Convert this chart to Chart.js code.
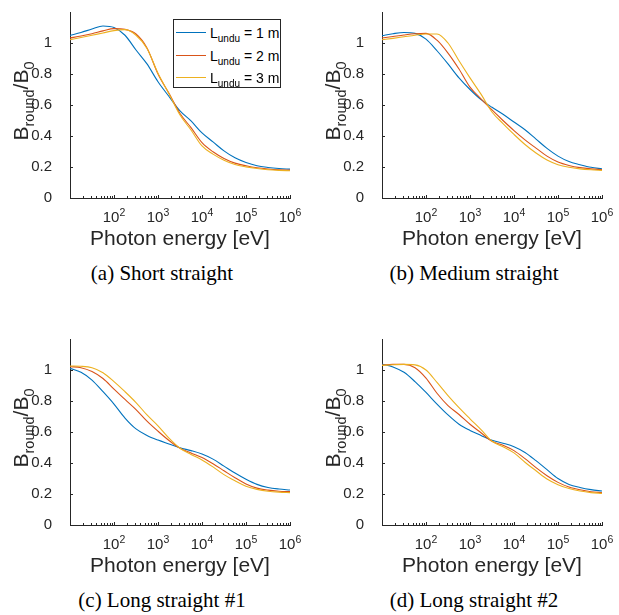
<!DOCTYPE html>
<html>
<head>
<meta charset="utf-8">
<title>Round beam size vs photon energy</title>
<script src="https://cdn.jsdelivr.net/npm/chart.js@4.4.1/dist/chart.umd.min.js"></script>
<style>
  body { margin: 0; background: #fff; }
  .panel { position: absolute; width: 312px; height: 290px; }
  .panel canvas { position: absolute; left: 0; top: 0; }
  .caption { position: absolute; left: 0; top: 261px; width: 324px; text-align: center; white-space: nowrap;
    font-family: 'Liberation Serif', 'Times New Roman', serif; font-size: 21px; line-height: 24px; color: #000; }
  .legend { position: absolute; left: 173px; top: 19px; width: 108px; height: 69px; box-sizing: border-box;
    border: 1px solid #262626; background: #fff; font-family: 'Liberation Sans', Arial, sans-serif; font-size: 14px; color: #000; }
  .legend .item { position: absolute; left: 0; width: 100%; height: 18px; }
  .legend .swatch { position: absolute; left: 2px; top: 8px; width: 30px; height: 0; border-top: 1px solid; }
  .legend .text { position: absolute; left: 36px; top: 0; line-height: 18px; white-space: nowrap; }
  .legend sub { font-size: 10px; vertical-align: -4px; line-height: 0; }
</style>
</head>
<body>
<div class="panel" style="left:0;top:0">
  <canvas id="chart-a" width="310" height="255"></canvas>
  <div class="legend" id="legend-a"></div>
  <div class="caption">(a) Short straight</div>
</div>
<div class="panel" style="left:312px;top:0">
  <canvas id="chart-b" width="310" height="255"></canvas>
  <div class="caption">(b) Medium straight</div>
</div>
<div class="panel" style="left:0;top:327px">
  <canvas id="chart-c" width="310" height="255"></canvas>
  <div class="caption">(c) Long straight #1</div>
</div>
<div class="panel" style="left:312px;top:327px">
  <canvas id="chart-d" width="310" height="255"></canvas>
  <div class="caption">(d) Long straight #2</div>
</div>
<script>
// photon energy [eV], read every quarter decade
const energyEv = [10, 17.78, 31.62, 56.23, 100, 177.8, 316.2, 562.3, 1000, 1778, 3162, 5623,
  10000, 17780, 31620, 56230, 100000, 177800, 316200, 562300, 1000000];

// B_round / B_0, one array per straight section and undulator length
const shortL1 = [1.049, 1.068, 1.090, 1.110, 1.100, 1.050, 0.955, 0.865, 0.750, 0.655, 0.562, 0.497, 0.420, 0.362, 0.304, 0.259, 0.229, 0.208, 0.197, 0.190, 0.186];
const shortL2 = [1.032, 1.045, 1.060, 1.078, 1.093, 1.088, 1.058, 0.968, 0.800, 0.675, 0.545, 0.454, 0.357, 0.298, 0.255, 0.225, 0.208, 0.195, 0.187, 0.182, 0.180];
const shortL3 = [1.021, 1.035, 1.050, 1.065, 1.080, 1.086, 1.050, 0.965, 0.805, 0.672, 0.535, 0.439, 0.336, 0.283, 0.244, 0.216, 0.201, 0.190, 0.182, 0.178, 0.176];

const mediumL1 = [1.047, 1.060, 1.068, 1.062, 1.025, 0.950, 0.865, 0.775, 0.700, 0.635, 0.585, 0.540, 0.490, 0.440, 0.380, 0.320, 0.270, 0.235, 0.215, 0.198, 0.188];
const mediumL2 = [1.032, 1.042, 1.052, 1.060, 1.062, 1.018, 0.935, 0.832, 0.715, 0.640, 0.568, 0.500, 0.435, 0.375, 0.322, 0.270, 0.232, 0.210, 0.196, 0.188, 0.183];
const mediumL3 = [1.021, 1.030, 1.040, 1.050, 1.058, 1.058, 1.000, 0.885, 0.775, 0.670, 0.555, 0.480, 0.410, 0.345, 0.290, 0.245, 0.215, 0.198, 0.188, 0.182, 0.178];

const long1L1 = [1.011, 0.985, 0.935, 0.860, 0.780, 0.690, 0.620, 0.578, 0.548, 0.523, 0.498, 0.480, 0.458, 0.425, 0.380, 0.335, 0.295, 0.262, 0.242, 0.232, 0.226];
const long1L2 = [1.022, 1.015, 0.990, 0.945, 0.877, 0.810, 0.745, 0.670, 0.605, 0.545, 0.495, 0.465, 0.435, 0.395, 0.350, 0.305, 0.265, 0.238, 0.225, 0.218, 0.215];
const long1L3 = [1.026, 1.024, 1.014, 0.982, 0.925, 0.860, 0.790, 0.710, 0.640, 0.560, 0.495, 0.455, 0.420, 0.375, 0.325, 0.285, 0.250, 0.230, 0.218, 0.212, 0.209];

const long2L1 = [1.039, 1.020, 0.985, 0.925, 0.855, 0.780, 0.710, 0.650, 0.610, 0.578, 0.547, 0.528, 0.505, 0.468, 0.415, 0.357, 0.300, 0.262, 0.242, 0.228, 0.219];
const long2L2 = [1.032, 1.036, 1.036, 1.015, 0.948, 0.850, 0.770, 0.713, 0.650, 0.595, 0.540, 0.515, 0.480, 0.428, 0.370, 0.318, 0.275, 0.245, 0.227, 0.215, 0.209];
const long2L3 = [1.030, 1.034, 1.036, 1.033, 1.000, 0.920, 0.835, 0.757, 0.685, 0.615, 0.540, 0.505, 0.465, 0.405, 0.350, 0.297, 0.260, 0.235, 0.219, 0.209, 0.204];

const seriesLabels = ['L_undu = 1 m', 'L_undu = 2 m', 'L_undu = 3 m'];
const lineColors = ['#0072BD', '#D95319', '#EDB120'];
const xMajorTicks = [100, 1000, 10000, 100000, 1000000];
const xTickLabels = ['10^2', '10^3', '10^4', '10^5', '10^6'];
const yTickLabels = ['0', '0.2', '0.4', '0.6', '0.8', '1'];
const xTitle = 'Photon energy [eV]';
const yTitleParts = [{text: 'B'}, {text: 'round', sub: true}, {text: '/B'}, {text: '0', sub: true}];

const axisColor = '#262626';
const fontFamily = '"Liberation Sans", Arial, sans-serif';

Chart.defaults.font.family = fontFamily;
Chart.defaults.color = axisColor;

// inward ticks, 10^n labels and the B_round/B_0 label, placed with the chart's scales
const axisDecor = {
  id: 'axisDecor',
  afterDraw(chart) {
    const {ctx, chartArea, scales: {x, y}} = chart;
    ctx.save();
    ctx.strokeStyle = axisColor;
    ctx.lineWidth = 1;
    ctx.beginPath();
    x.ticks.forEach(tick => {
      const exp = Math.floor(Math.log10(tick.value) + 1e-9);
      const mant = tick.value / Math.pow(10, exp);
      if (Math.abs(mant - Math.round(mant)) > 1e-6) return;
      const px = Math.round(x.getPixelForValue(tick.value)) + 0.5;
      const len = Math.round(mant) === 1 ? 3 : 2;
      ctx.moveTo(px, chartArea.bottom);
      ctx.lineTo(px, chartArea.bottom - len);
    });
    y.ticks.forEach(tick => {
      if (!tick.label) return;
      const py = Math.round(y.getPixelForValue(tick.value)) + 0.5;
      ctx.moveTo(chartArea.left, py);
      ctx.lineTo(chartArea.left + 3, py);
    });
    ctx.stroke();

    ctx.fillStyle = axisColor;
    ctx.textBaseline = 'alphabetic';
    ctx.textAlign = 'left';
    x.ticks.forEach(tick => {
      if (!tick.label) return;
      const [base, exp] = tick.label.split('^');
      ctx.font = '15px ' + fontFamily;
      const wb = ctx.measureText(base).width;
      ctx.font = '10.5px ' + fontFamily;
      const we = ctx.measureText(exp).width;
      const left = x.getPixelForValue(tick.value) - (wb + we) / 2;
      ctx.font = '15px ' + fontFamily;
      ctx.fillText(base, left, chartArea.bottom + 24);
      ctx.font = '10.5px ' + fontFamily;
      ctx.fillText(exp, left + wb, chartArea.bottom + 18);
    });

    const mainFont = '21px ' + fontFamily;
    const subFont = '14.5px ' + fontFamily;
    let total = 0;
    yTitleParts.forEach(p => {
      ctx.font = p.sub ? subFont : mainFont;
      p.width = ctx.measureText(p.text).width;
      total += p.width;
    });
    const centerY = (chartArea.top + chartArea.bottom) / 2 - 4;
    ctx.translate(27.5, centerY);
    ctx.rotate(-Math.PI / 2);
    let pos = -total / 2;
    yTitleParts.forEach(p => {
      ctx.font = p.sub ? subFont : mainFont;
      ctx.fillText(p.text, pos, p.sub ? 6.5 : 0);
      pos += p.width;
    });
    ctx.restore();
  }
};

class RoundBeamChart {
  constructor(canvasId, seriesList, legendId) {
    this.getData(seriesList);
    this.initPlugin(canvasId);
    if (legendId) this.renderLegend(legendId);
  }

  getData(seriesList) {
    const datasets = [];
    seriesList.forEach((values, i) => {
      datasets.push({
        label: seriesLabels[i],
        data: values.map((v, j) => ({x: energyEv[j], y: v})),
        borderColor: lineColors[i],
        backgroundColor: lineColors[i],
        borderWidth: 1.1,
        pointRadius: 0,
        cubicInterpolationMode: 'monotone',
        order: seriesList.length - i,
      });
    });
    this.data = {datasets: datasets};
  }

  initPlugin(canvasId) {
    const context = document.getElementById(canvasId).getContext('2d');

    this.chart = new Chart(context, {
      type: 'line',
      data: this.data,
      plugins: [axisDecor],
      options: {
        responsive: false,
        animation: false,
        devicePixelRatio: 1,
        events: [],
        layout: {padding: {top: 12, right: 20, bottom: 0, left: 0}},
        plugins: {
          legend: {display: false},
          tooltip: {enabled: false},
        },
        scales: {
          x: {
            type: 'logarithmic',
            min: 10,
            max: 1000000,
            grid: {display: false},
            border: {display: true, color: axisColor, width: 1},
            ticks: {
              display: false,
              autoSkip: false,
              maxRotation: 0,
              callback: (value) => {
                const idx = xMajorTicks.indexOf(value);
                return idx >= 0 ? xTickLabels[idx] : '';
              },
            },
            title: {
              display: true,
              text: xTitle,
              color: axisColor,
              font: {size: 21, lineHeight: 1},
              padding: {top: 0, bottom: 5},
            },
            afterFit: (scale) => {
              scale.height = 57;
              scale.paddingLeft = 0;
              scale.paddingRight = 0;
            },
          },
          y: {
            min: 0,
            max: 1.2,
            grid: {display: false},
            border: {display: true, color: axisColor, width: 1},
            ticks: {
              stepSize: 0.2,
              padding: 10,
              color: axisColor,
              font: {size: 15},
              callback: (value, index) => yTickLabels[index] || '',
            },
            afterFit: (scale) => {
              scale.width = 70;
              scale.paddingTop = 0;
              scale.paddingBottom = 0;
            },
          },
        },
      },
    });
  }

  renderLegend(legendId) {
    const wrapper = document.getElementById(legendId);
    const rowTops = [4, 26.5, 49];
    let html = '';
    this.data.datasets.forEach((set, i) => {
      const text = set.label.replace(/_(\w+)/, '<sub>$1</sub>');
      html += '<div class="item" style="top:' + rowTops[i] + 'px">' +
        '<span class="swatch" style="border-color:' + set.borderColor + '"></span>' +
        '<span class="text">' + text + '</span></div>';
    });
    wrapper.innerHTML = html;
  }
}

new RoundBeamChart('chart-a', [shortL1, shortL2, shortL3], 'legend-a');
new RoundBeamChart('chart-b', [mediumL1, mediumL2, mediumL3]);
new RoundBeamChart('chart-c', [long1L1, long1L2, long1L3]);
new RoundBeamChart('chart-d', [long2L1, long2L2, long2L3]);
</script>
</body>
</html>
